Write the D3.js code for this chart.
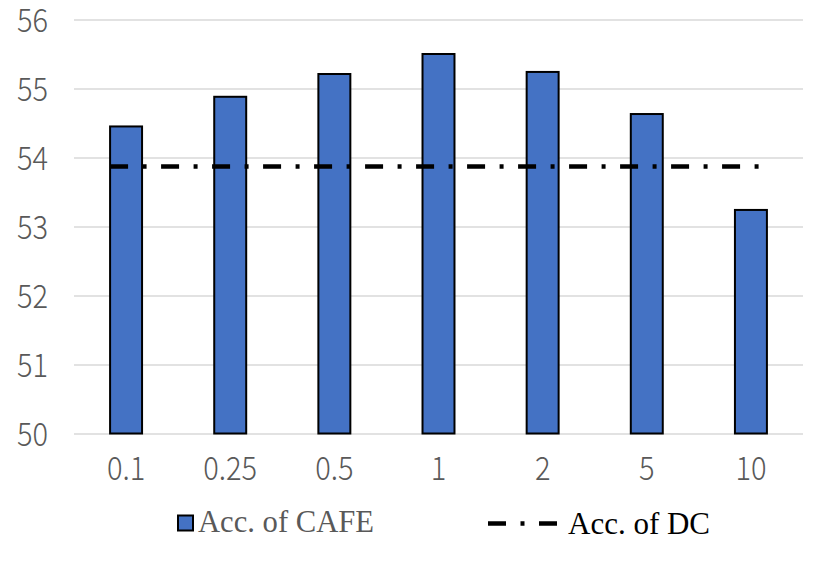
<!DOCTYPE html>
<html>
<head>
  <meta charset="utf-8">
  <title>Acc. of CAFE vs DC</title>
  <style>
    body { margin: 0; background: #fff; }
    .tick text { fill: #595959; font-family: "Noto Sans CJK SC", "Noto Sans", sans-serif; font-weight: 300; font-size: 33px; }
  </style>
</head>
<body>
  <svg width="830" height="581"></svg>
  <script src="https://cdnjs.cloudflare.com/ajax/libs/d3/7.8.5/d3.min.js"></script>
  <script>
    const categories = ["0.1", "0.25", "0.5", "1", "2", "5", "10"];
    const cafeValues = [54.45, 54.88, 55.21, 55.50, 55.24, 54.63, 53.24];
    const dcValue = 53.87;
    const yTicks = [50, 51, 52, 53, 54, 55, 56];
    const seriesNames = ["Acc. of CAFE", "Acc. of DC"];

    const svg = d3.select("svg");
    const margin = {left: 74, right: 27, top: 19.5, bottom: 147.5};
    const W = 830, H = 581;
    const squeeze = 0.88; // tick font is a narrow one

    let x = d3.scaleBand()
              .domain(categories)
              .range([margin.left, W - margin.right])
              .paddingInner(0.693)
              .paddingOuter(0.3465);
    let y = d3.scaleLinear()
              .domain([50, 56])
              .range([H - margin.bottom, margin.top]);

    // gridlines + y labels
    let yAxis = svg.append("g")
       .attr("transform", "translate(" + margin.left + ",0)")
       .call(d3.axisLeft(y).tickValues(yTicks).tickFormat(d3.format("d"))
               .tickSize(-(W - margin.left - margin.right)).tickPadding(26));
    yAxis.select(".domain").remove();
    yAxis.selectAll("line").attr("stroke", "#d9d9d9").attr("stroke-width", 1.6);
    yAxis.selectAll("text")
         .attr("x", 0)
         .attr("dy", "0.35em")
         .attr("transform", "translate(-26,0) scale(" + squeeze + ",1)");

    // bars
    svg.append("g").selectAll("rect")
       .data(cafeValues)
       .enter().append("rect")
       .attr("x", (d, i) => x(categories[i]))
       .attr("width", x.bandwidth())
       .attr("y", d => y(d))
       .attr("height", d => y(50) - y(d))
       .attr("fill", "#4472c4")
       .attr("stroke", "#000")
       .attr("stroke-width", 2);

    // x labels
    let xAxis = svg.append("g")
       .attr("transform", "translate(0," + y(50) + ")")
       .call(d3.axisBottom(x).tickSize(0));
    xAxis.select(".domain").remove();
    xAxis.selectAll("text")
         .attr("y", 0)
         .attr("dy", 0)
         .attr("transform", "translate(0,46) scale(" + squeeze + ",1)");

    // DC line
    const dash = "18,14.5,4,14.5";
    svg.append("line")
       .attr("x1", x(categories[0]))
       .attr("x2", x(categories[categories.length - 1]) + x.bandwidth())
       .attr("y1", y(dcValue))
       .attr("y2", y(dcValue))
       .attr("stroke", "#000")
       .attr("stroke-width", 4.5)
       .attr("stroke-dasharray", dash);

    // legend
    let legend = svg.append("g");
    legend.append("rect")
          .attr("x", 178).attr("y", 515.5)
          .attr("width", 15).attr("height", 15)
          .attr("fill", "#4472c4").attr("stroke", "#000").attr("stroke-width", 2);
    legend.append("text")
          .text(seriesNames[0])
          .attr("x", 198).attr("y", 531.5)
          .attr("font-family", "Liberation Serif, serif")
          .attr("font-size", 32)
          .attr("fill", "#595959")
          .attr("textLength", 176)
          .attr("lengthAdjust", "spacingAndGlyphs");
    legend.append("line")
          .attr("x1", 488).attr("x2", 557)
          .attr("y1", 523.5).attr("y2", 523.5)
          .attr("stroke", "#000").attr("stroke-width", 4.5)
          .attr("stroke-dasharray", dash);
    legend.append("text")
          .text(seriesNames[1])
          .attr("x", 568).attr("y", 534)
          .attr("font-family", "Liberation Serif, serif")
          .attr("font-size", 32)
          .attr("fill", "#000")
          .attr("textLength", 142)
          .attr("lengthAdjust", "spacingAndGlyphs");
  </script>
</body>
</html>
